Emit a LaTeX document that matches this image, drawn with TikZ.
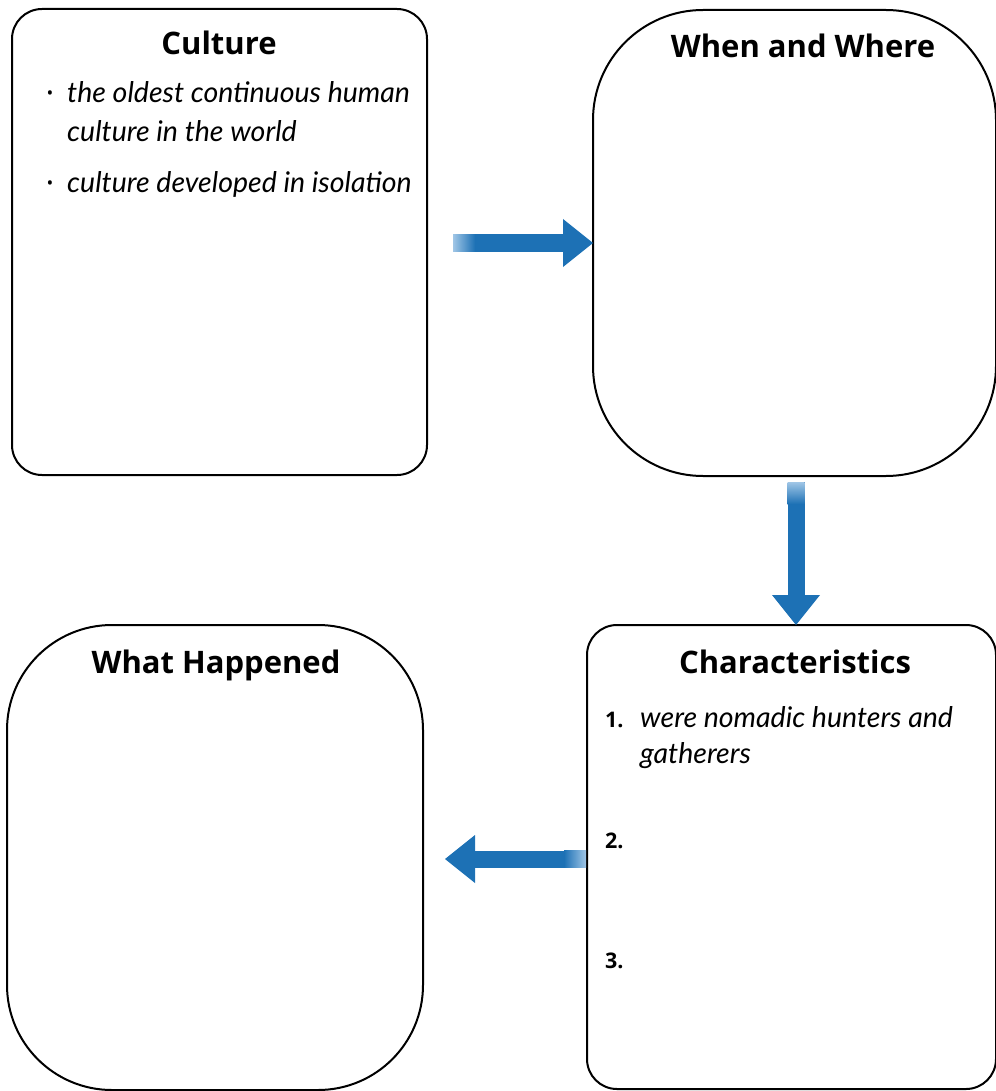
\documentclass[tikz,border=0pt]{standalone}
\usepackage{fontspec}
\setmainfont{Open Sans}
\newfontfamily\handfont{Lato}
\usetikzlibrary{arrows.meta}
\definecolor{flowblue}{RGB}{29,113,181}
\definecolor{flowpale}{RGB}{160,198,230}
\tikzset{
  box/.style={draw=black, line width=2pt, inner sep=0pt, outer sep=0pt},
  heading/.style={anchor=base, inner sep=0pt, font=\fontsize{31}{36}\selectfont\bfseries},
  hand/.style={anchor=base west, inner sep=0pt, font=\handfont\fontsize{28.5}{32}\selectfont\itshape},
  num/.style={anchor=base west, inner sep=0pt, font=\fontsize{21.5}{24}\selectfont\bfseries},
  bul/.style={anchor=base, inner sep=0pt, font=\fontsize{18}{20}\selectfont},
  flow/.style={draw=flowblue, line width=17pt, -{Triangle[length=30pt,width=48pt,line width=0pt]}},
}
\begin{document}
\begin{tikzpicture}[x=1pt,y=-1pt]
\useasboundingbox (0,0) rectangle (995,1091);
% boxes
\node[box, rounded corners=30pt, minimum width=415pt, minimum height=466pt] (culture) at (219.5,242) {};
\node[box, rounded corners=110pt, minimum width=403pt, minimum height=466pt] (when) at (794.5,243) {};
\node[box, rounded corners=30pt, minimum width=409pt, minimum height=464pt] (char) at (791.5,857) {};
\node[box, rounded corners=105pt, minimum width=416pt, minimum height=465pt] (what) at (215,857.5) {};
% headings
\node[heading] (hculture) at (219,55) {Culture};
\node[heading] (hwhen) at (803,58) {When and Where};
\node[heading] (hchar) at (795,673) {Characteristics};
\node[heading] (hwhat) at (216,673) {What Happened};
% culture text
\node[bul] (b1) at (50,100) {•};
\node[hand] (c1) at (67,103) {the oldest continuous human};
\node[hand] (c2) at (67,142) {culture in the world};
\node[bul] (b2) at (50,190) {•};
\node[hand] (c3) at (67,193) {culture developed in isolation};
% characteristics text
\node[num] (n1) at (605,727) {1.};
\node[hand] (t1) at (640,727) {were nomadic hunters and};
\node[hand] (t1b) at (640,763) {gatherers};
\node[num] (n2) at (605,848) {2.};
\node[num] (n3) at (605,968) {3.};
% arrows
\coordinate (rtail) at (453,243);
\draw[flow] (rtail) -- (when.west |- rtail);
\shade[left color=flowpale, right color=flowblue] ([yshift=8.5pt]rtail) rectangle ([xshift=22pt,yshift=-8.5pt]rtail);
\coordinate (dtail) at (796,482);
\draw[flow] (dtail) -- (dtail |- char.north);
\shade[top color=flowpale, bottom color=flowblue] ([xshift=-8.5pt]dtail) rectangle ([xshift=8.5pt,yshift=-22pt]dtail);
\coordinate (ltail) at (586,859);
\coordinate (ltip) at (445,859);
\draw[flow] (ltail) -- (ltip);
\shade[left color=flowblue, right color=flowpale] ([xshift=-22pt,yshift=8.5pt]ltail) rectangle ([yshift=-8.5pt]ltail);
\end{tikzpicture}
\end{document}
